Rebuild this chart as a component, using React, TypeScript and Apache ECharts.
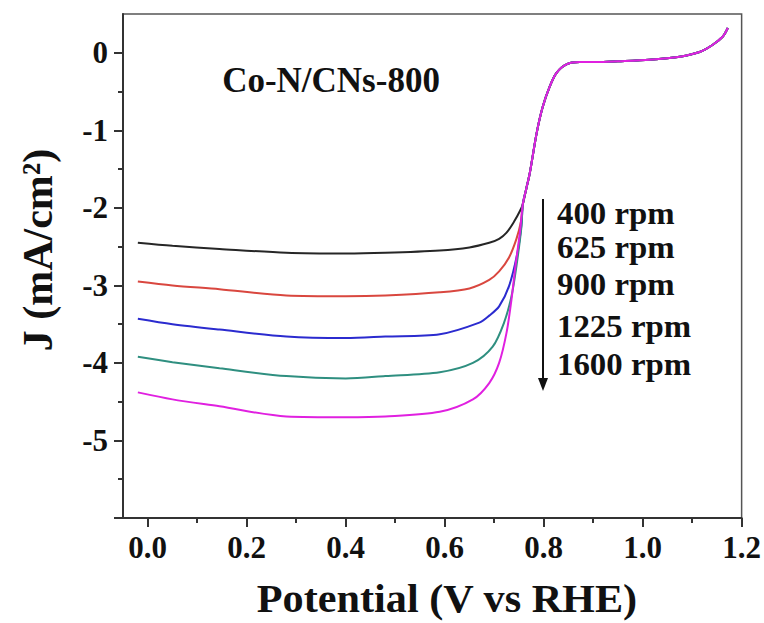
import React, { useEffect, useRef } from "react";
import * as echarts from "echarts";

// Potential (V vs RHE) and current density (mA/cm²) – diffusion-limited part per rotation speed
const E_400 = [-0.02, 0.05, 0.145, 0.28, 0.4, 0.48, 0.59, 0.65, 0.69, 0.71, 0.725, 0.74, 0.752];
const J_400 = [-2.45, -2.49, -2.53, -2.58, -2.59, -2.58, -2.55, -2.51, -2.45, -2.4, -2.32, -2.18, -2.04];

const E_625 = [-0.02, 0.05, 0.145, 0.28, 0.4, 0.48, 0.59, 0.65, 0.69, 0.71, 0.73, 0.745, 0.754];
const J_625 = [-2.95, -3.0, -3.05, -3.13, -3.14, -3.13, -3.09, -3.04, -2.93, -2.82, -2.64, -2.4, -2.18];

const E_900 = [-0.02, 0.05, 0.145, 0.28, 0.4, 0.48, 0.59, 0.67, 0.69, 0.71, 0.73, 0.747, 0.755];
const J_900 = [-3.43, -3.5, -3.57, -3.66, -3.68, -3.66, -3.63, -3.48, -3.39, -3.27, -3.01, -2.58, -2.22];

const E_1225 = [-0.02, 0.05, 0.145, 0.28, 0.4, 0.48, 0.59, 0.657, 0.697, 0.72, 0.735, 0.745, 0.755];
const J_1225 = [-3.92, -3.99, -4.07, -4.17, -4.2, -4.17, -4.12, -4.0, -3.79, -3.48, -3.14, -2.75, -2.25];

const E_1600 = [-0.02, 0.05, 0.145, 0.28, 0.4, 0.48, 0.59, 0.657, 0.69, 0.71, 0.725, 0.735, 0.743, 0.752];
const J_1600 = [-4.38, -4.47, -4.56, -4.69, -4.7, -4.69, -4.63, -4.47, -4.26, -4.0, -3.61, -3.18, -2.75, -2.32];

// shared kinetic / onset region
const E_TAIL = [0.758, 0.765, 0.772, 0.786, 0.798, 0.812, 0.826, 0.846, 0.873, 0.907, 0.95, 1.014, 1.075, 1.115, 1.141, 1.162, 1.172];
const J_TAIL = [-1.95, -1.75, -1.55, -1.03, -0.7, -0.44, -0.26, -0.15, -0.12, -0.12, -0.11, -0.09, -0.05, 0.01, 0.1, 0.21, 0.32];

const SPEEDS = ["400 rpm", "625 rpm", "900 rpm", "1225 rpm", "1600 rpm"];
const COLORS = ["#262626", "#d9473f", "#2b2bcf", "#2f8f80", "#e020e0"];

const X_TICKS = [0, 0.2, 0.4, 0.6, 0.8, 1.0, 1.2];
const X_MINOR = [0.1, 0.3, 0.5, 0.7, 0.9, 1.1];
const Y_TICKS = [0, -1, -2, -3, -4, -5];
const Y_MAJOR_MARKS = [0, -1, -2, -3, -4, -5, -6];
const Y_MINOR = [-0.5, -1.5, -2.5, -3.5, -4.5, -5.5];

const FONT = "Liberation Serif";
const AXIS = "#333";

const build = (e: number[], j: number[]) => {
  const pts: number[][] = e.map((x, i) => [x, j[i]]);
  E_TAIL.forEach((x, i) => pts.push([x, J_TAIL[i]]));
  return pts;
};

export default function App() {
  const ref = useRef<HTMLDivElement>(null);
  useEffect(() => {
    document.body.style.margin = "0";
    if (!ref.current) return;
    const chart = echarts.init(ref.current, undefined, { renderer: "svg" });
    const sets = [
      build(E_400, J_400),
      build(E_625, J_625),
      build(E_900, J_900),
      build(E_1225, J_1225),
      build(E_1600, J_1600),
    ];
    const labelYs = [214, 248, 285, 327, 365];
    const textStyle = (size: number) => ({
      fontFamily: FONT,
      fontWeight: "bold",
      fontSize: size,
      fill: "#111",
    });
    chart.setOption({
      animation: false,
      backgroundColor: "#fff",
      textStyle: { fontFamily: FONT },
      grid: {
        left: 123,
        right: 21,
        top: 14,
        bottom: 105,
        show: true,
        borderColor: "#555",
        borderWidth: 1.5,
        backgroundColor: "transparent",
      },
      xAxis: [
        {
          type: "value",
          min: -0.05,
          max: 1.2,
          axisLine: { show: true, onZero: false, lineStyle: { color: AXIS, width: 2 } },
          axisTick: { show: true, inside: false, length: 9, lineStyle: { color: AXIS, width: 2 }, customValues: X_TICKS },
          axisLabel: {
            customValues: X_TICKS,
            margin: 14,
            formatter: (v: number) => v.toFixed(1),
            fontFamily: FONT,
            fontWeight: "bold",
            fontSize: 31,
            color: "#111",
          },
          splitLine: { show: false },
        },
        {
          type: "value",
          min: -0.05,
          max: 1.2,
          position: "bottom",
          axisLine: { show: false, onZero: false },
          axisTick: { show: true, length: 5, lineStyle: { color: AXIS, width: 2 }, customValues: X_MINOR },
          axisLabel: { show: false },
          splitLine: { show: false },
        },
      ],
      yAxis: [
        {
          type: "value",
          min: -6,
          max: 0.5,
          axisLine: { show: true, onZero: false, lineStyle: { color: AXIS, width: 2 } },
          axisTick: { show: true, inside: false, length: 9, lineStyle: { color: AXIS, width: 2 }, customValues: Y_MAJOR_MARKS },
          axisLabel: {
            customValues: Y_TICKS,
            margin: 15,
            formatter: (v: number) => String(v),
            fontFamily: FONT,
            fontWeight: "bold",
            fontSize: 31,
            color: "#111",
          },
          splitLine: { show: false },
        },
        {
          type: "value",
          min: -6,
          max: 0.5,
          position: "left",
          axisLine: { show: false, onZero: false },
          axisTick: { show: true, length: 5, lineStyle: { color: AXIS, width: 2 }, customValues: Y_MINOR },
          axisLabel: { show: false },
          splitLine: { show: false },
        },
      ],
      series: sets.map((d, i) => ({
        name: SPEEDS[i],
        type: "line",
        data: d,
        showSymbol: false,
        smooth: 0.3,
        lineStyle: { color: COLORS[i], width: 2 },
        itemStyle: { color: COLORS[i] },
        z: 2 + i,
      })),
      graphic: [
        {
          type: "text",
          x: 331,
          y: 80,
          style: { ...textStyle(35), text: "Co-N/CNs-800", align: "center", verticalAlign: "middle" },
        },
        ...SPEEDS.map((s, i) => ({
          type: "text",
          x: 557,
          y: labelYs[i],
          scaleX: 1.06,
          style: { ...textStyle(31), text: s, align: "left", verticalAlign: "middle" },
        })),
        {
          type: "line",
          shape: { x1: 543, y1: 199, x2: 543, y2: 380 },
          style: { stroke: "#111", lineWidth: 2 },
        },
        {
          type: "polygon",
          shape: { points: [[538, 378], [548, 378], [543, 391]] },
          style: { fill: "#111" },
        },
        {
          type: "text",
          x: 447,
          y: 598,
          scaleX: 1.03,
          style: { ...textStyle(41), text: "Potential (V vs RHE)", align: "center", verticalAlign: "middle" },
        },
        {
          type: "text",
          x: 38,
          y: 250,
          rotation: Math.PI / 2,
          style: { ...textStyle(42), text: "J (mA/cm²)", align: "center", verticalAlign: "middle" },
        },
      ],
    });
    return () => chart.dispose();
  }, []);
  return <div ref={ref} style={{ width: 764, height: 623 }} />;
}
